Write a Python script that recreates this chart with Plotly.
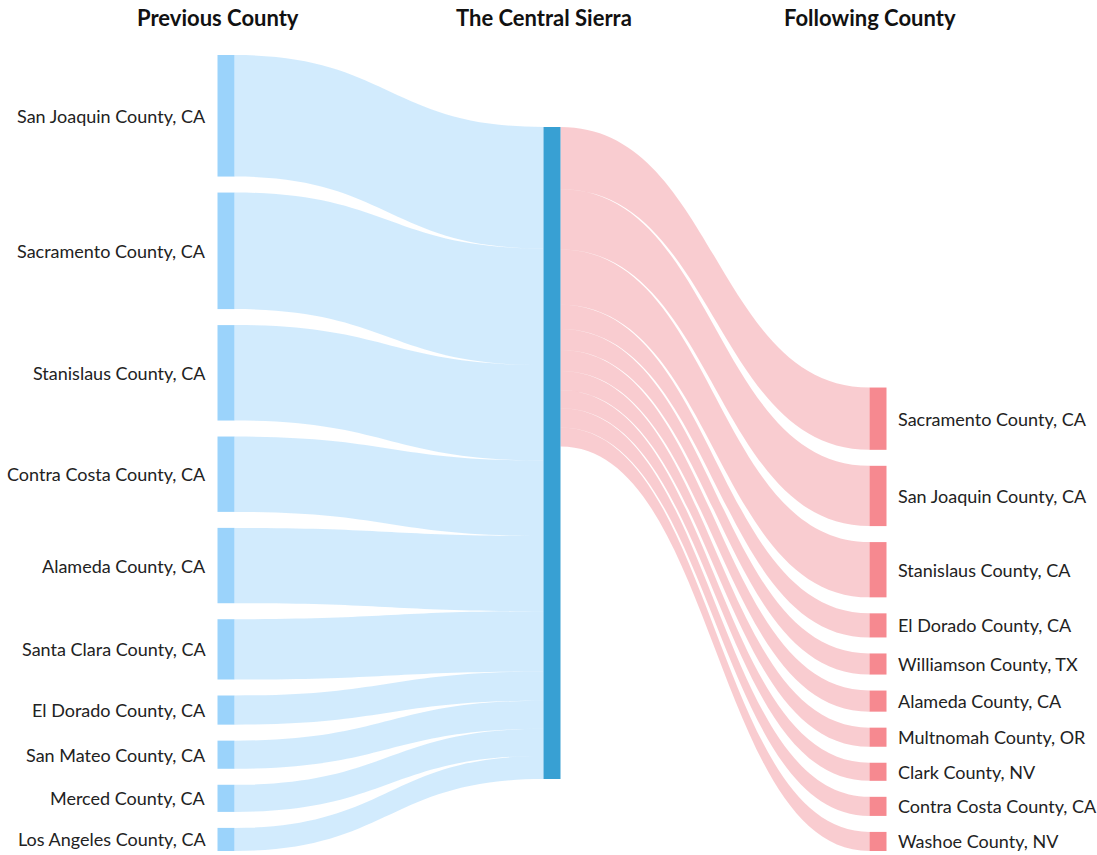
import plotly.graph_objects as go

# ---------------- data ----------------
center_name = "The Central Sierra"
column_titles = ["Previous County", "The Central Sierra", "Following County"]

prev_counties = [
    "San Joaquin County, CA", "Sacramento County, CA", "Stanislaus County, CA",
    "Contra Costa County, CA", "Alameda County, CA", "Santa Clara County, CA",
    "El Dorado County, CA", "San Mateo County, CA", "Merced County, CA",
    "Los Angeles County, CA",
]
prev_values = [121, 116, 95, 75, 75, 60, 29, 28, 27, 23]

next_counties = [
    "Sacramento County, CA", "San Joaquin County, CA", "Stanislaus County, CA",
    "El Dorado County, CA", "Williamson County, TX", "Alameda County, CA",
    "Multnomah County, OR", "Clark County, NV", "Contra Costa County, CA",
    "Washoe County, NV",
]
next_values = [62, 60, 55, 24, 21, 21, 19, 18, 19, 19]

# ---------------- styling / layout constants ----------------
FIG_W, FIG_H = 1097, 855
M_L, M_R, M_T, M_B = 226, 219, 55, 4
PLOT_W = FIG_W - M_L - M_R
PLOT_H = FIG_H - M_T - M_B
PAD = 16
THICK = 17

LEFT_NODE = "#9BD3FB"
CENTER_NODE = "#38A0D3"
RIGHT_NODE = "#F68990"
BLUE_LINK = "rgba(155,211,251,0.45)"
PINK_LINK = "rgba(240,128,138,0.40)"
FONT = "Lato, 'Open Sans', sans-serif"

# ---------------- node positions (derived from data, like d3-sankey) ----------------
n_prev, n_next = len(prev_values), len(next_values)
center_value = max(sum(prev_values), sum(next_values))
ky = min(
    (PLOT_H - (n_prev - 1) * PAD) / sum(prev_values),
    PLOT_H / center_value,
    (PLOT_H - (n_next - 1) * PAD) / sum(next_values),
)


def column_centers(values, align_bottom=False):
    total = sum(values) * ky + (len(values) - 1) * PAD
    y = PLOT_H - total if align_bottom else 0.0
    centers = []
    for v in values:
        h = v * ky
        centers.append(y + h / 2)
        y += h + PAD
    return centers


prev_cy = column_centers(prev_values)
next_cy = column_centers(next_values, align_bottom=True)
center_cy = PLOT_H / 2

EPS = 1e-6
labels = prev_counties + [center_name] + next_counties
node_x = [EPS] * n_prev + [0.5] + [1.0] * n_next
node_y = [c / PLOT_H for c in prev_cy] + [center_cy / PLOT_H] + [c / PLOT_H for c in next_cy]
node_colors = [LEFT_NODE] * n_prev + [CENTER_NODE] + [RIGHT_NODE] * n_next

center_idx = n_prev
sources = list(range(n_prev)) + [center_idx] * n_next
targets = [center_idx] * n_prev + [center_idx + 1 + j for j in range(n_next)]
values = prev_values + next_values
link_colors = [BLUE_LINK] * n_prev + [PINK_LINK] * n_next

fig = go.Figure(
    go.Sankey(
        arrangement="fixed",
        node=dict(
            label=labels,
            x=node_x,
            y=node_y,
            pad=PAD,
            thickness=THICK,
            color=node_colors,
            line=dict(width=0),
        ),
        link=dict(source=sources, target=targets, value=values, color=link_colors),
        textfont=dict(color="rgba(0,0,0,0)", size=1),
    )
)

LABEL_FONT = dict(family=FONT, size=18, color="#222222")
annotations = []
for name, cy in zip(prev_counties, prev_cy):
    annotations.append(dict(
        x=0, y=1 - cy / PLOT_H, xref="paper", yref="paper",
        xanchor="right", yanchor="middle", xshift=-(THICK / 2 + 10),
        text=name, showarrow=False, font=LABEL_FONT,
    ))
for name, cy in zip(next_counties, next_cy):
    annotations.append(dict(
        x=1, y=1 - cy / PLOT_H, xref="paper", yref="paper",
        xanchor="left", yanchor="middle", xshift=(THICK / 2 + 9),
        text=name, showarrow=False, font=LABEL_FONT,
    ))
for title, xp in zip(column_titles, [0, 0.5, 1]):
    annotations.append(dict(
        x=xp, y=1, xref="paper", yref="paper",
        xanchor="center", yanchor="middle", xshift=-THICK / 2, yshift=38,
        text="<b>" + title + "</b>", showarrow=False,
        font=dict(family=FONT, size=22, color="#111111"),
    ))

fig.update_layout(
    width=FIG_W, height=FIG_H,
    margin=dict(l=M_L, r=M_R, t=M_T, b=M_B, pad=0),
    paper_bgcolor="white", plot_bgcolor="white",
    font=dict(family=FONT),
    annotations=annotations,
)

fig.write_html(
    "out.html",
    config={"displayModeBar": False},
    post_script="document.body.style.margin='0';",
)
